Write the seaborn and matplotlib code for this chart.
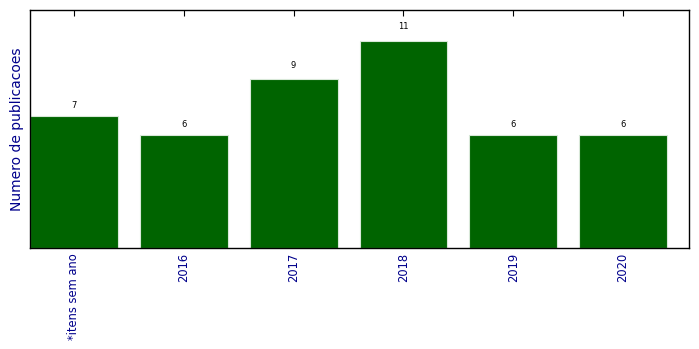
import matplotlib
matplotlib.use("Agg")
import matplotlib.pyplot as plt
import seaborn as sns
import pandas as pd

categories = ["*itens sem ano", "2016", "2017", "2018", "2019", "2020"]
values = [7, 6, 9, 11, 6, 6]

sns.set_style("white")
plt.rcParams['font.family'] = ['DejaVu Sans']

df = pd.DataFrame({"cat": categories, "val": values})

fig = plt.figure(figsize=(6.99, 3.49), dpi=100)
ax = fig.add_axes([30/699, 1 - 248/349, (689-30)/699, (248-10)/349])
sns.barplot(data=df, x="cat", y="val", color="#006400", saturation=1, width=0.8,
            edgecolor="#d8e8d8", linewidth=0.8, ax=ax)
ax.set_xlim(-0.4, 5.6)
ax.set_ylim(0, 12.65)
for i, v in enumerate(values):
    ax.text(i, v * 1.05, str(v), ha="center", va="bottom", fontsize=6, color="black")
ax.set_xlabel("")
ax.set_ylabel("Numero de publicacoes", color="darkblue", fontsize=10)
ax.set_yticks([])
ax.tick_params(axis="x", direction="in", top=True, bottom=True, length=4, width=0.8,
               labelsize=8.3, labelcolor="darkblue", rotation=90, color="black")
for s in ax.spines.values():
    s.set_visible(True)
    s.set_color("black")
    s.set_linewidth(1.0)
fig.savefig("out.png", dpi=100)
